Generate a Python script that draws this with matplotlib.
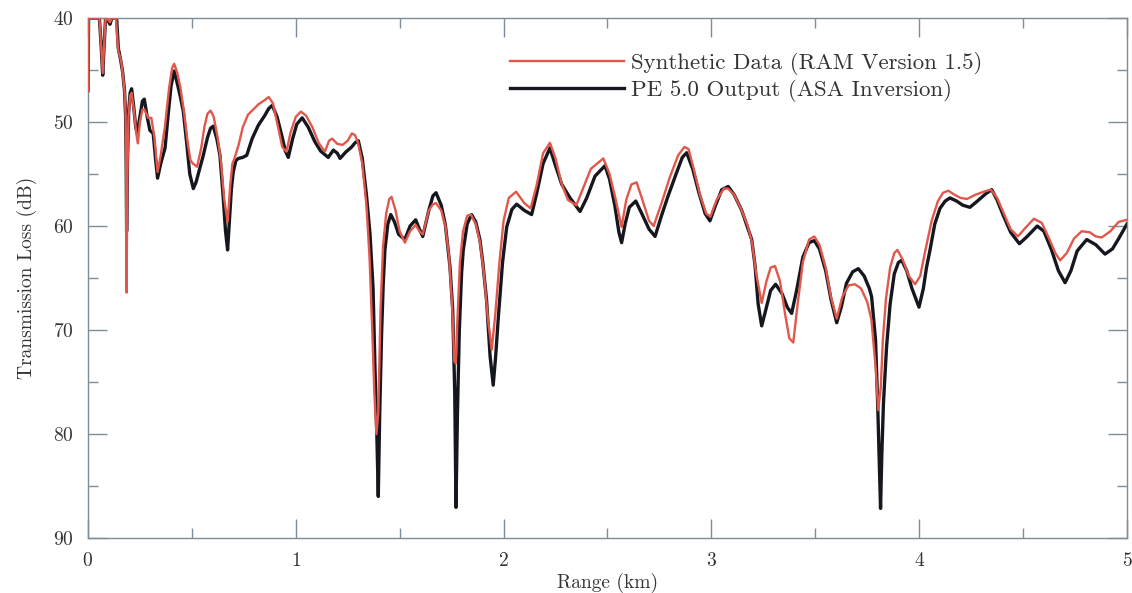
# ==== IMPORT ================================================================ #

import matplotlib
matplotlib.use("Agg")

import matplotlib.pyplot as plt
import numpy             as np
from matplotlib.ticker import MultipleLocator

# ==== DATA ================================================================== #

pe_range = [
    0.000, 0.003, 0.055, 0.063, 0.071, 0.078, 0.085, 0.098, 0.106, 0.115,
    0.138, 0.146, 0.157, 0.167, 0.176, 0.181, 0.184, 0.186, 0.190, 0.196,
    0.203, 0.210, 0.220, 0.230, 0.237, 0.250, 0.262, 0.271, 0.285, 0.298,
    0.314, 0.325, 0.335, 0.350, 0.371, 0.385, 0.400, 0.415, 0.430, 0.445,
    0.459, 0.475, 0.490, 0.507, 0.520, 0.540, 0.555, 0.575, 0.590, 0.603,
    0.620, 0.635, 0.650, 0.662, 0.672, 0.682, 0.690, 0.699, 0.712, 0.724,
    0.745, 0.764, 0.790, 0.820, 0.850, 0.870, 0.887, 0.910, 0.932, 0.950,
    0.964, 0.985, 1.005, 1.031, 1.060, 1.092, 1.120, 1.156, 1.181, 1.200,
    1.213, 1.240, 1.269, 1.285, 1.301, 1.320, 1.340, 1.357, 1.372, 1.381,
    1.390, 1.397, 1.404, 1.413, 1.421, 1.429, 1.443, 1.457, 1.475, 1.495,
    1.525, 1.550, 1.577, 1.595, 1.611, 1.640, 1.660, 1.675, 1.700, 1.720,
    1.742, 1.755, 1.765, 1.771, 1.778, 1.787, 1.798, 1.806, 1.825, 1.846,
    1.866, 1.886, 1.900, 1.918, 1.935, 1.950, 1.962, 1.975, 1.995, 2.015,
    2.040, 2.063, 2.100, 2.135, 2.160, 2.190, 2.223, 2.250, 2.280, 2.320,
    2.368, 2.400, 2.440, 2.488, 2.510, 2.535, 2.555, 2.568, 2.585, 2.605,
    2.636, 2.665, 2.700, 2.729, 2.760, 2.790, 2.830, 2.860, 2.881, 2.910,
    2.940, 2.970, 2.993, 3.020, 3.050, 3.081, 3.110, 3.146, 3.175, 3.194,
    3.210, 3.225, 3.242, 3.260, 3.285, 3.309, 3.340, 3.365, 3.386, 3.410,
    3.440, 3.470, 3.495, 3.520, 3.550, 3.575, 3.603, 3.625, 3.650, 3.680,
    3.707, 3.735, 3.760, 3.771, 3.790, 3.800, 3.808, 3.814, 3.820, 3.828,
    3.843, 3.860, 3.880, 3.900, 3.916, 3.940, 3.965, 3.999, 4.020, 4.035,
    4.052, 4.075, 4.100, 4.125, 4.148, 4.180, 4.210, 4.244, 4.280, 4.320,
    4.349, 4.375, 4.405, 4.440, 4.482, 4.520, 4.568, 4.600, 4.635, 4.670,
    4.702, 4.730, 4.760, 4.806, 4.850, 4.894, 4.930, 4.960, 5.000,
]

pe_loss = [
    47.0, 40.0, 40.0, 42.5, 45.5, 42.5, 40.0, 40.3, 40.6, 40.0,
    40.0, 42.9, 44.0, 45.2, 47.0, 49.3, 54.0, 60.5, 54.0, 49.0,
    47.2, 46.8, 48.5, 50.5, 51.1, 49.5, 48.0, 47.8, 49.5, 50.8,
    51.1, 53.5, 55.4, 54.0, 52.5, 49.5, 46.5, 45.1, 46.3, 47.6,
    49.0, 52.0, 55.0, 56.4, 55.8, 54.3, 53.2, 51.5, 50.6, 50.4,
    51.6, 53.2, 57.0, 60.5, 62.3, 59.0, 56.5, 54.8, 53.7, 53.5,
    53.4, 53.2, 51.6, 50.3, 49.4, 48.7, 48.4, 49.5, 51.25, 52.8,
    53.4, 51.6, 50.2, 49.6, 50.5, 51.9, 52.8, 53.4, 52.7, 53.0,
    53.5, 52.9, 52.4, 52.0, 51.8, 53.5, 57.0, 60.7, 66.0, 73.5,
    80.0, 86.0, 78.0, 70.3, 65.5, 62.3, 59.8, 58.9, 59.6, 60.8,
    61.3, 60.0, 59.4, 60.3, 61.0, 58.5, 57.1, 56.8, 58.0, 59.9,
    63.9, 68.0, 76.0, 87.05, 78.0, 70.0, 64.5, 62.3, 59.8, 58.9,
    59.6, 61.3, 63.5, 67.1, 72.5, 75.3, 72.5, 68.7, 63.5, 60.1,
    58.4, 57.9, 58.5, 58.9, 56.8, 54.0, 52.5, 54.2, 56.0, 57.3,
    58.6, 57.3, 55.2, 54.2, 55.5, 58.0, 60.6, 61.6, 59.8, 58.2,
    57.6, 58.8, 60.3, 61.0, 59.0, 57.2, 55.0, 53.4, 52.95, 54.5,
    56.8, 58.8, 59.5, 58.0, 56.5, 56.2, 57.0, 58.5, 60.2, 61.3,
    63.8, 67.5, 69.6, 68.2, 66.2, 65.6, 66.5, 67.8, 68.4, 66.2,
    63.0, 61.6, 61.4, 62.2, 64.3, 67.0, 69.3, 67.8, 65.5, 64.4,
    64.1, 64.8, 66.0, 66.8, 71.0, 77.0, 83.0, 87.15, 82.0, 77.0,
    71.6, 67.5, 64.6, 63.5, 63.3, 64.3, 66.0, 67.8, 66.0, 64.0,
    62.3, 59.8, 58.3, 57.6, 57.3, 57.6, 58.0, 58.2, 57.6, 56.9,
    56.5, 57.5, 59.0, 60.6, 61.7, 61.0, 60.0, 60.5, 62.2, 64.3,
    65.45, 64.3, 62.4, 61.3, 61.8, 62.7, 62.2, 61.2, 59.8,
]

ram_range = [
    0.000, 0.003, 0.055, 0.063, 0.071, 0.078, 0.085, 0.098, 0.106, 0.115,
    0.135, 0.143, 0.148, 0.153, 0.160, 0.167, 0.176, 0.181, 0.184, 0.186,
    0.189, 0.195, 0.203, 0.210, 0.222, 0.232, 0.240, 0.250, 0.262, 0.272,
    0.290, 0.305, 0.320, 0.335, 0.350, 0.370, 0.390, 0.405, 0.415, 0.430,
    0.445, 0.462, 0.480, 0.493, 0.505, 0.525, 0.545, 0.560, 0.575, 0.590,
    0.605, 0.625, 0.640, 0.655, 0.672, 0.685, 0.695, 0.705, 0.725, 0.745,
    0.770, 0.790, 0.820, 0.850, 0.870, 0.890, 0.915, 0.935, 0.955, 0.975,
    1.000, 1.025, 1.050, 1.080, 1.110, 1.140, 1.160, 1.175, 1.200, 1.225,
    1.250, 1.270, 1.285, 1.300, 1.320, 1.340, 1.355, 1.368, 1.378, 1.388,
    1.397, 1.408, 1.420, 1.435, 1.450, 1.461, 1.480, 1.500, 1.525, 1.550,
    1.577, 1.595, 1.611, 1.640, 1.660, 1.675, 1.700, 1.720, 1.738, 1.752,
    1.763, 1.770, 1.778, 1.790, 1.805, 1.825, 1.843, 1.866, 1.886, 1.905,
    1.925, 1.943, 1.960, 1.980, 2.000, 2.025, 2.060, 2.100, 2.130, 2.160,
    2.190, 2.223, 2.250, 2.280, 2.310, 2.350, 2.380, 2.420, 2.480, 2.510,
    2.540, 2.568, 2.590, 2.615, 2.640, 2.665, 2.700, 2.722, 2.760, 2.800,
    2.840, 2.870, 2.890, 2.915, 2.945, 2.975, 2.995, 3.025, 3.060, 3.080,
    3.110, 3.146, 3.175, 3.195, 3.215, 3.242, 3.265, 3.285, 3.306, 3.330,
    3.355, 3.375, 3.394, 3.415, 3.440, 3.470, 3.495, 3.520, 3.550, 3.575,
    3.603, 3.630, 3.660, 3.691, 3.720, 3.750, 3.770, 3.790, 3.803, 3.815,
    3.825, 3.840, 3.860, 3.880, 3.895, 3.920, 3.950, 3.980, 4.005, 4.030,
    4.060, 4.090, 4.115, 4.140, 4.170, 4.200, 4.230, 4.270, 4.310, 4.345,
    4.375, 4.405, 4.440, 4.475, 4.510, 4.552, 4.590, 4.625, 4.655, 4.678,
    4.710, 4.745, 4.782, 4.820, 4.850, 4.878, 4.920, 4.960, 5.000,
]

ram_loss = [
    47.0, 40.0, 40.0, 42.5, 45.3, 42.5, 40.0, 40.2, 40.4, 40.0,
    40.0, 42.5, 43.4, 43.6, 44.2, 45.3, 47.0, 49.3, 55.0, 66.4,
    56.0, 49.5, 47.5, 47.2, 49.0, 51.0, 52.05, 50.0, 48.8, 48.8,
    49.6, 49.6, 51.5, 54.8, 53.2, 50.5, 46.8, 44.8, 44.4, 45.3,
    46.7, 49.0, 52.0, 53.65, 54.0, 54.3, 52.5, 50.5, 49.2, 48.9,
    49.5, 51.6, 53.8, 57.3, 59.6, 56.0, 54.0, 53.5, 52.2, 50.5,
    49.3, 48.9, 48.3, 47.9, 47.6, 48.2, 50.5, 52.4, 52.85, 51.0,
    49.5, 49.0, 49.4, 50.5, 52.0, 52.85, 51.8, 51.6, 52.1, 52.2,
    51.8, 51.1, 51.25, 52.0, 54.0, 58.0, 63.0, 70.0, 76.0, 80.0,
    78.0, 68.0, 62.0, 58.8, 57.4, 57.2, 58.5, 60.5, 61.6, 60.5,
    59.9, 60.5, 60.8, 58.5, 57.9, 57.8, 58.5, 60.0, 63.0, 67.5,
    73.0, 73.2, 69.0, 63.5, 60.5, 59.0, 58.9, 59.8, 61.5, 64.5,
    69.0, 71.9, 68.5, 63.5, 59.5, 57.3, 56.7, 57.8, 58.3, 56.0,
    53.0, 52.0, 53.5, 56.0, 57.5, 58.0, 56.5, 54.5, 53.5, 55.0,
    57.5, 60.1, 57.5, 56.0, 55.8, 57.3, 59.5, 60.0, 57.8, 55.3,
    53.2, 52.4, 52.6, 54.5, 57.0, 58.8, 59.1, 57.5, 56.4, 56.4,
    57.0, 58.5, 60.0, 61.5, 64.5, 67.4, 65.3, 64.0, 63.85, 65.3,
    68.5, 70.8, 71.2, 67.5, 63.5, 61.3, 61.0, 61.8, 64.0, 66.8,
    68.9, 66.8, 65.7, 65.6, 66.0, 67.3, 69.0, 73.5, 77.7, 75.5,
    71.0, 67.0, 64.0, 62.6, 62.3, 63.2, 64.8, 65.6, 64.8, 62.3,
    59.5, 57.6, 56.8, 56.6, 57.0, 57.3, 57.4, 57.0, 56.7, 56.5,
    57.3, 58.7, 60.3, 61.0, 60.2, 59.3, 59.7, 61.2, 62.6, 63.3,
    62.6, 61.2, 60.5, 60.6, 61.0, 61.1, 60.5, 59.6, 59.4,
]

labels = ["Synthetic Data (RAM Version 1.5)", "PE 5.0 Output (ASA Inversion)"]

# ==== FUNCTIONS ============================================================= #

def draw():

    plt.rcParams["font.family"] = ["cmr10", "DejaVu Serif"]
    plt.rcParams["axes.formatter.use_mathtext"] = True

    fig = plt.figure(figsize = (11.32, 5.93), dpi = 100)
    ax  = fig.add_axes([0.0777, 0.0927, 0.9179, 0.8769])

    ax.plot(ram_range, ram_loss, color = "#e2574c", lw = 1.7,
            label = labels[0], zorder = 3, solid_joinstyle = "round")
    ax.plot(pe_range, pe_loss, color = "#15171f", lw = 2.4,
            label = labels[1], zorder = 2, solid_joinstyle = "round")

    ax.set_xlim(0, 5)
    ax.set_ylim(90, 40)

    ax.xaxis.set_major_locator(MultipleLocator(1))
    ax.xaxis.set_minor_locator(MultipleLocator(0.5))
    ax.yaxis.set_major_locator(MultipleLocator(10))
    ax.yaxis.set_minor_locator(MultipleLocator(5))

    edge = "#7f8c99"
    for s in ax.spines.values():
        s.set_color(edge)
        s.set_linewidth(1.0)

    ax.tick_params(which = "both", direction = "in", top = True, right = True,
                   color = edge, labelcolor = "#333333", labelsize = 14)
    ax.tick_params(which = "major", length = 14, width = 1.0, pad = 10)
    ax.tick_params(which = "minor", length = 7, width = 1.0)

    ax.set_xlabel("Range (km)", fontsize = 14, color = "#333333", labelpad = 2)
    ax.set_ylabel("Transmission Loss (dB)", fontsize = 14, color = "#333333",
                  labelpad = 12)

    leg = ax.legend(loc = "upper left", bbox_to_anchor = (0.386, 0.975),
                    frameon = False, fontsize = 16.5, handlelength = 5.0,
                    handletextpad = 0.3, labelspacing = 0.2)
    for t in leg.get_texts():
        t.set_color("#333333")

    fig.savefig("out.png", dpi = 100)

# ==== MAIN ================================================================== #

def main():

    draw()


if __name__ == "__main__":

    main()
